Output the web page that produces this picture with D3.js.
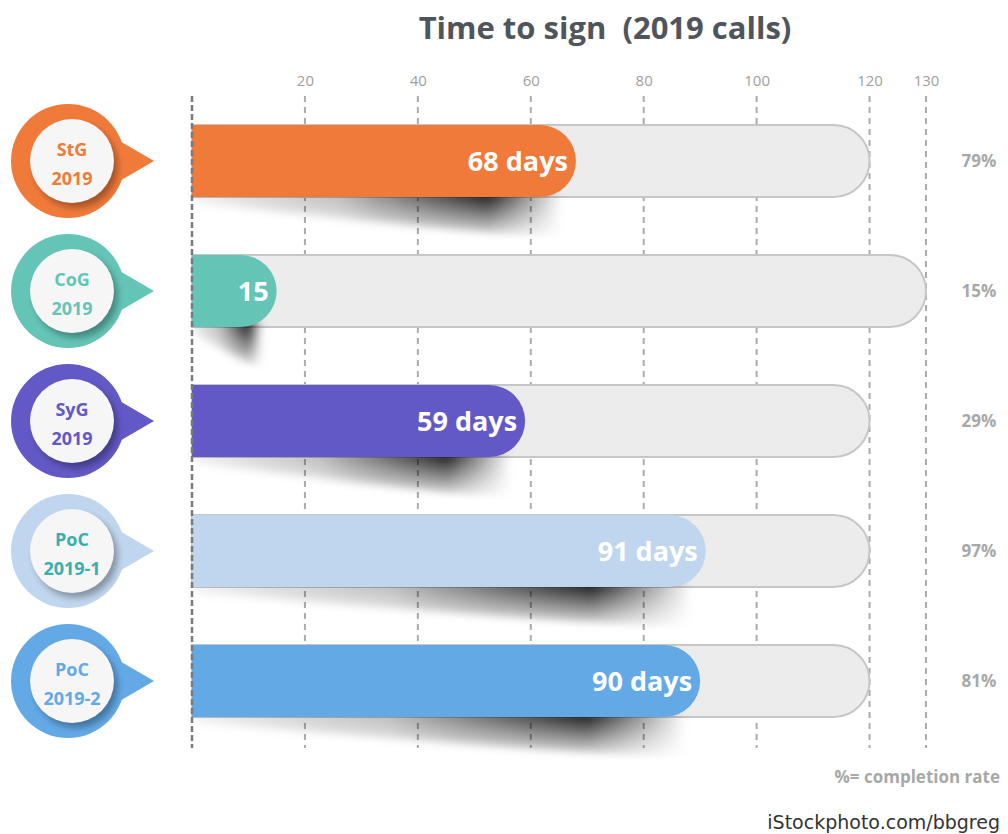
<!DOCTYPE html>
<html>
<head>
<meta charset="utf-8">
<script src="https://cdn.jsdelivr.net/npm/d3@7"></script>
<style>
  body { margin: 0; background: #fff; }
  svg { display: block; }
</style>
</head>
<body>
<svg id="chart" width="1008" height="834"></svg>
<script>
// chart data
const badgeTop = ['StG', 'CoG', 'SyG', 'PoC', 'PoC']
const badgeBottom = ['2019', '2019', '2019', '2019-1', '2019-2']
const days = [68, 15, 59, 91, 90]
const maxDays = [120, 130, 120, 120, 120]
const dayLabels = ['68 days', '15', '59 days', '91 days', '90 days']
const completion = ['79%', '15%', '29%', '97%', '81%']
const tickValues = [20, 40, 60, 80, 100, 120, 130]

const barColors = ['#f07a3a', '#64c5b6', '#6359c6', '#c0d6ee', '#63a9e6']
const badgeTextColors = ['#f07a3a', '#64c5b6', '#6359c6', '#3aafb0', '#63a9e6']

const svg = d3.select('#chart')
const font = "'Open Sans', sans-serif"

const x = d3.scaleLinear().domain([0, 130]).range([192, 926])
const rows = d3.range(days.length)
const y = d3.scalePoint().domain(rows).range([161, 681])
const barH = 72
const r = barH / 2

const defs = svg.append('defs')

// blur for shadows
defs.append('filter').attr('id', 'blur')
  .attr('filterUnits', 'userSpaceOnUse')
  .attr('x', 0).attr('y', 0).attr('width', 1008).attr('height', 834)
  .append('feGaussianBlur').attr('stdDeviation', 4)

defs.append('filter').attr('id', 'softblur').attr('x', '-30%').attr('y', '-30%').attr('width', '160%').attr('height', '160%')
  .append('feGaussianBlur').attr('stdDeviation', 3)

const grad = defs.append('linearGradient').attr('id', 'shadowGrad')
  .attr('x1', '0%').attr('x2', '100%').attr('y1', '0%').attr('y2', '0%')
grad.append('stop').attr('offset', '0%').attr('stop-color', '#000').attr('stop-opacity', 0.05)
grad.append('stop').attr('offset', '40%').attr('stop-color', '#000').attr('stop-opacity', 0.25)
grad.append('stop').attr('offset', '80%').attr('stop-color', '#000').attr('stop-opacity', 0.85)
grad.append('stop').attr('offset', '100%').attr('stop-color', '#000').attr('stop-opacity', 0)

// vertical fade for each shadow
rows.forEach(i => {
  const yb = y(i) + r
  const vg = defs.append('linearGradient').attr('id', 'fade' + i)
    .attr('gradientUnits', 'userSpaceOnUse')
    .attr('x1', 0).attr('x2', 0).attr('y1', yb).attr('y2', yb + 44)
  vg.append('stop').attr('offset', '0%').attr('stop-color', '#fff')
  vg.append('stop').attr('offset', '100%').attr('stop-color', '#000')
  defs.append('mask').attr('id', 'mask' + i)
    .attr('maskUnits', 'userSpaceOnUse')
    .attr('x', 0).attr('y', yb - 30).attr('width', 1008).attr('height', 90)
    .append('rect')
    .attr('x', 0).attr('y', yb - 30).attr('width', 1008).attr('height', 90)
    .attr('fill', `url(#fade${i})`)
})

// title
svg.append('text')
  .attr('x', 605).attr('y', 39)
  .attr('text-anchor', 'middle')
  .style('white-space', 'pre')
  .style('font-family', font).style('font-weight', 700).style('font-size', '31px')
  .style('fill', '#50555c')
  .text('Time to sign  (2019 calls)')

// axis labels on top
const axis = d3.axisTop(x).tickValues(tickValues).tickSize(0).tickPadding(0)
const axisG = svg.append('g').attr('transform', 'translate(0,86)').call(axis)
axisG.select('.domain').remove()
axisG.selectAll('text')
  .style('font-family', font).style('font-size', '15px').style('fill', '#a0a0a0')

// gridlines
svg.append('g').selectAll('line')
  .data(tickValues)
  .join('line')
  .attr('x1', d => x(d)).attr('x2', d => x(d))
  .attr('y1', 96).attr('y2', 748)
  .attr('stroke', '#ababab').attr('stroke-width', 2)
  .attr('stroke-dasharray', '6,5')

function pill(x0, x1, yc) {
  const top = yc - r
  const xe = Math.max(x1 - r, x0)
  return `M${x0},${top}H${xe}A${r},${r} 0 0 1 ${xe},${top + barH}H${x0}Z`
}

const rowG = svg.append('g').selectAll('g')
  .data(rows)
  .join('g')

// grey track
rowG.append('path')
  .attr('d', i => pill(x(0), x(maxDays[i]), y(i)))
  .attr('fill', '#ececec')
  .attr('stroke', '#c6c6c6').attr('stroke-width', 2)

// shadow under colored bar
rowG.append('g')
  .attr('mask', i => `url(#mask${i})`)
  .append('path')
  .attr('d', i => {
    const x0 = x(0), xe = x(days[i]) - r * 0.4
    const yb = y(i) + r
    return `M${x0},${yb - 6}L${xe},${yb - 6}L${xe},${yb + 46}L${x0},${yb + 6}Z`
  })
  .attr('fill', 'url(#shadowGrad)')
  .attr('filter', 'url(#blur)')

// colored bar
rowG.append('path')
  .attr('d', i => pill(x(0), x(days[i]), y(i)))
  .attr('fill', i => barColors[i])

// bar labels
rowG.append('text')
  .attr('x', i => x(days[i]) - 8)
  .attr('y', i => y(i) + 10)
  .attr('text-anchor', 'end')
  .style('font-family', font).style('font-weight', 700).style('font-size', '27px')
  .style('fill', '#fff')
  .text(i => dayLabels[i])

// zero line
svg.append('line')
  .attr('x1', x(0)).attr('x2', x(0))
  .attr('y1', 96).attr('y2', 748)
  .attr('stroke', '#7a7a7a').attr('stroke-width', 2.5)
  .attr('stroke-dasharray', '6,3')

// completion rate
rowG.append('text')
  .attr('x', 979)
  .attr('y', i => y(i) + 6)
  .attr('text-anchor', 'middle')
  .style('font-family', font).style('font-weight', 700).style('font-size', '17px')
  .style('fill', '#a8a8a8')
  .text(i => completion[i])

// badges
const badgeX = 68
const badgeR = 57
const badge = rowG.append('g')
  .attr('transform', i => `translate(${badgeX},${y(i)})`)

badge.append('path')
  .attr('d', () => {
    const a = 24 * Math.PI / 180
    const px = badgeR * Math.cos(a), py = badgeR * Math.sin(a)
    return `M${px - 6},${-py}L${86},0L${px - 6},${py}Z`
  })
  .attr('fill', i => barColors[i])

badge.append('circle')
  .attr('r', badgeR)
  .attr('fill', i => barColors[i])

badge.append('circle')
  .attr('cx', 8).attr('cy', 5).attr('r', 42)
  .attr('fill', '#000').attr('opacity', 0.3)
  .attr('filter', 'url(#softblur)')

badge.append('circle')
  .attr('cx', 4).attr('cy', 0).attr('r', 42)
  .attr('fill', '#f6f6f6')

badge.append('text')
  .attr('x', 4).attr('y', -5)
  .attr('text-anchor', 'middle')
  .style('font-family', font).style('font-weight', 700).style('font-size', '18px')
  .style('fill', i => badgeTextColors[i])
  .text(i => badgeTop[i])

badge.append('text')
  .attr('x', 4).attr('y', 24)
  .attr('text-anchor', 'middle')
  .style('font-family', font).style('font-weight', 700).style('font-size', '18px')
  .style('fill', i => badgeTextColors[i])
  .text(i => badgeBottom[i])

// footer notes
svg.append('text')
  .attr('x', 1000).attr('y', 783)
  .attr('text-anchor', 'end')
  .style('font-family', font).style('font-weight', 700).style('font-size', '17px')
  .style('fill', '#a8a8a8')
  .text('%= completion rate')

svg.append('text')
  .attr('x', 1000).attr('y', 829)
  .attr('text-anchor', 'end')
  .style('font-family', "'DejaVu Sans', sans-serif").style('font-size', '19px')
  .style('fill', '#333')
  .text('iStockphoto.com/bbgreg')
</script>
</body>
</html>
